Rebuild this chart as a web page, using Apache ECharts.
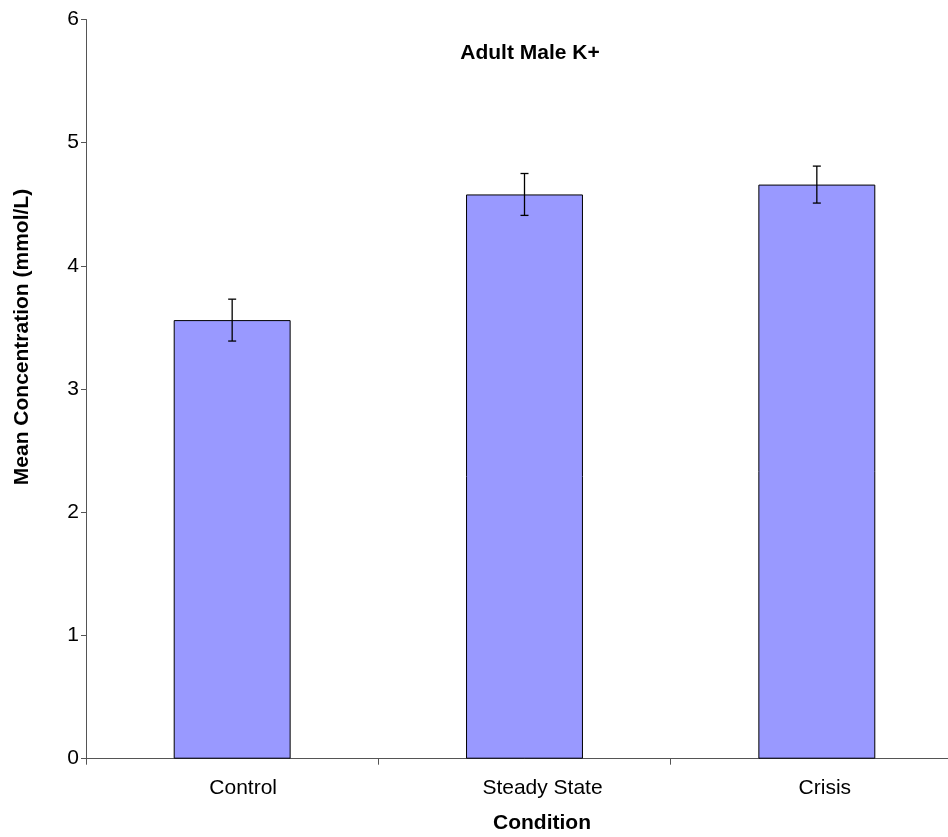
<!DOCTYPE html>
<html>
<head>
<meta charset="utf-8">
<script src="https://cdn.jsdelivr.net/npm/echarts@6/dist/echarts.min.js"></script>
<style>html,body{margin:0;padding:0;background:#fff;overflow:hidden}#c{width:963px;height:837px}</style>
</head>
<body>
<div id="c"></div>
<script>
var categories = ['Control', 'Steady State', 'Crisis'];
var means = [3.56, 4.58, 4.66];
var errors = [0.17, 0.17, 0.15];
var yTicks = [0, 1, 2, 3, 4, 5, 6];
var titleText = 'Adult Male K+';
var xName = 'Condition';
var yName = 'Mean Concentration (mmol/L)';

var errData = categories.map(function (c, i) { return [i, means[i] - errors[i], means[i] + errors[i]]; });
var labelKeys = ['a', 'b', 'c'];

var chart = echarts.init(document.getElementById('c'));
var font = 'Liberation Sans, Arial, sans-serif';
var lbl = { fontFamily: font, fontSize: 21, color: '#000' };
chart.setOption({
  animation: false,
  title: {
    text: titleText, left: 525, top: 38, textAlign: 'center',
    textStyle: { fontFamily: font, fontSize: 21, fontWeight: 'bold', color: '#000' }
  },
  grid: { left: 86, right: 0, top: 19.5, bottom: 78.3, containLabel: false, outerBoundsMode: 'none' },
  graphic: [
    {
      type: 'text', left: 493, top: 813,
      style: { text: xName, fontFamily: font, fontSize: 21, fontWeight: 'bold', fill: '#000' }
    },
    {
      type: 'text', x: 22, y: 337, rotation: Math.PI / 2,
      style: { text: yName, fontFamily: font, fontSize: 21, fontWeight: 'bold', fill: '#000',
               align: 'center', verticalAlign: 'middle' }
    }
  ],
  xAxis: {
    type: 'category', data: categories,
    axisLine: { lineStyle: { color: '#555', width: 1 } },
    axisTick: { show: true, length: 6, lineStyle: { color: '#555' } },
    axisLabel: {
      fontFamily: font, fontSize: 21, color: '#000', margin: 19,
      formatter: function (v, i) { return '{' + labelKeys[i] + '|' + v + '}'; },
      rich: {
        a: Object.assign({ padding: [0, 0, 0, 22] }, lbl),
        b: Object.assign({ padding: [0, 0, 0, 36] }, lbl),
        c: Object.assign({ padding: [0, 0, 0, 16] }, lbl)
      }
    },
    splitLine: { show: false }
  },
  yAxis: {
    type: 'value', min: yTicks[0], max: yTicks[yTicks.length - 1], interval: 1,
    axisLine: { show: true, lineStyle: { color: '#555', width: 1 } },
    axisTick: { show: true, length: 5, lineStyle: { color: '#555' } },
    axisLabel: { fontFamily: font, fontSize: 21, color: '#000', margin: 7 },
    splitLine: { show: false }
  },
  series: [
    {
      type: 'bar', data: means, barWidth: '40%',
      itemStyle: { color: '#9999FF', borderColor: '#000', borderWidth: 1 }
    },
    {
      type: 'custom', data: errData, z: 10,
      renderItem: function (params, api) {
        var x = api.value(0);
        var lo = api.coord([x, api.value(1)]);
        var hi = api.coord([x, api.value(2)]);
        var hw = 4;
        var st = { stroke: '#000', lineWidth: 1.3 };
        return {
          type: 'group',
          children: [
            { type: 'line', shape: { x1: lo[0], y1: lo[1], x2: hi[0], y2: hi[1] }, style: st },
            { type: 'line', shape: { x1: lo[0] - hw, y1: lo[1], x2: lo[0] + hw, y2: lo[1] }, style: st },
            { type: 'line', shape: { x1: hi[0] - hw, y1: hi[1], x2: hi[0] + hw, y2: hi[1] }, style: st }
          ]
        };
      }
    }
  ]
});
</script>
</body>
</html>
